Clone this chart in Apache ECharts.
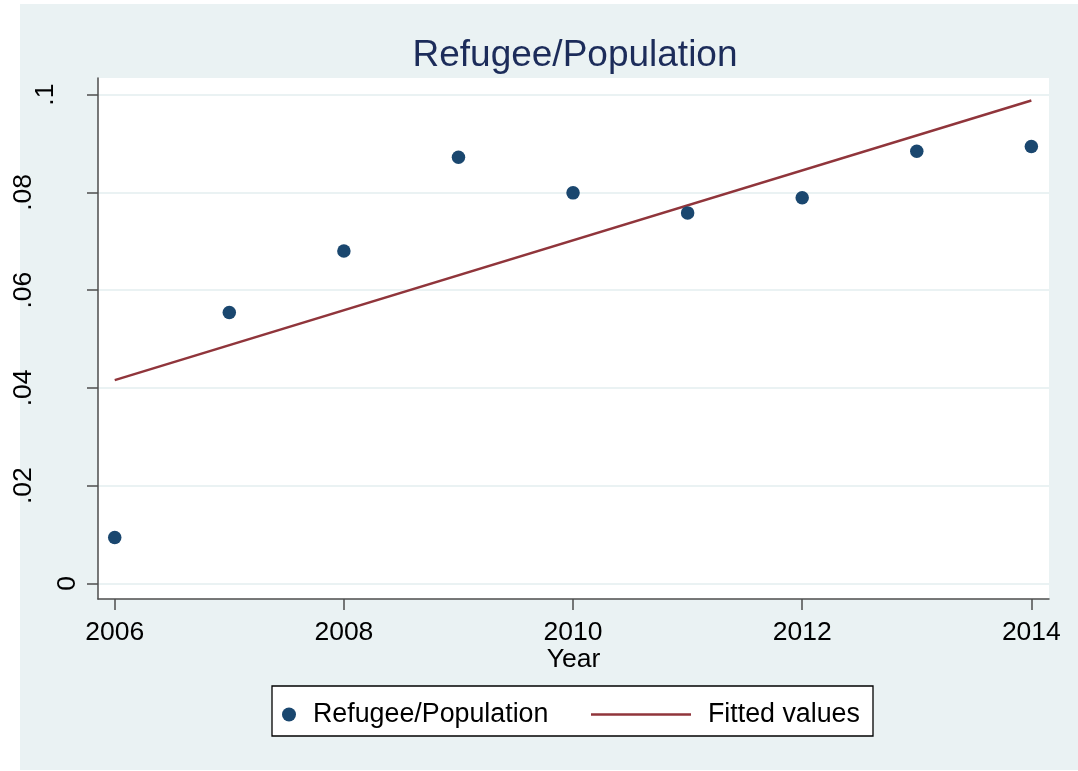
<!DOCTYPE html>
<html>
<head>
<meta charset="utf-8">
<script src="https://cdn.jsdelivr.net/npm/echarts@6/dist/echarts.min.js"></script>
<style>
  html, body { margin: 0; padding: 0; background: #ffffff; }
  #wrap { position: relative; width: 1078px; height: 771px; background: #ffffff; }
  #bg { position: absolute; left: 20px; top: 4px; width: 1058px; height: 766px; background: #eaf2f3; }
  #chart { position: absolute; left: 0; top: 0; width: 1078px; height: 771px; }
</style>
</head>
<body>
<div id="wrap"><div id="bg"></div><div id="chart"></div></div>
<script>
// ---- data ----
const years = [2006, 2007, 2008, 2009, 2010, 2011, 2012, 2013, 2014];
const refugeeShare = [0.0094, 0.0554, 0.0680, 0.0872, 0.0799, 0.0758, 0.0789, 0.0884, 0.0894];
const fittedYears = [2006, 2014];
const fittedValues = [0.0416, 0.0988];
const xTickValues = [2006, 2008, 2010, 2012, 2014];
const yTickValues = [0, 0.02, 0.04, 0.06, 0.08, 0.1];
const yTickLabels = ['0', '.02', '.04', '.06', '.08', '.1'];
const titleText = 'Refugee/Population';
const xTitle = 'Year';
const seriesNames = ['Refugee/Population', 'Fitted values'];

const FONT = '"Liberation Sans", Arial, Helvetica, sans-serif';
const chart = echarts.init(document.getElementById('chart'), null, { renderer: 'canvas' });

function yLabel(v) {
  let idx = -1;
  for (let i = 0; i < yTickValues.length; i++) {
    if (Math.abs(yTickValues[i] - v) < 1e-9) idx = i;
  }
  const s = idx >= 0 ? yTickLabels[idx] : String(v);
  return '{p' + s.length + '|' + s + '}';
}

const richBase = { fontSize: 26.5, fontFamily: FONT, color: '#000000' };

const option = {
  animation: false,
  backgroundColor: 'transparent',
  title: {
    text: titleText,
    left: 575,
    top: 37,
    padding: 0,
    textAlign: 'center',
    textStyle: { fontSize: 37, fontWeight: 'normal', fontFamily: FONT, color: '#1c2c5a' }
  },
  grid: {
    left: 98, top: 78, right: 29, bottom: 172,
    show: true, backgroundColor: '#ffffff', borderWidth: 0,
    containLabel: false
  },
  xAxis: {
    type: 'value',
    min: 2005.854,
    max: 2014.154,
    name: xTitle,
    nameLocation: 'middle',
    nameGap: 47,
    nameMoveOverlap: false,
    nameTextStyle: { fontSize: 26.5, fontFamily: FONT, color: '#000000' },
    axisLine: { show: true, onZero: false, lineStyle: { color: '#4d4d4d', width: 1.5 } },
    axisTick: { show: true, inside: false, length: 11, customValues: xTickValues, lineStyle: { color: '#4d4d4d', width: 1.5 } },
    axisLabel: { customValues: xTickValues, margin: 20, fontSize: 26.5, fontFamily: FONT, color: '#000000', formatter: v => String(Math.round(v)) },
    splitLine: { show: false }
  },
  yAxis: {
    type: 'value',
    min: -0.0032,
    max: 0.1034,
    axisLine: { show: true, onZero: false, lineStyle: { color: '#4d4d4d', width: 1.5 } },
    axisTick: { show: true, inside: false, length: 11, customValues: yTickValues, lineStyle: { color: '#4d4d4d', width: 1.5 } },
    axisLabel: {
      customValues: yTickValues,
      rotate: 90,
      margin: 30,
      align: 'center',
      verticalAlign: 'middle',
      formatter: yLabel,
      rich: {
        p1: Object.assign({ padding: [0, 0, 0, 0] }, richBase),
        p2: Object.assign({ padding: [0, 0, 45, 0] }, richBase),
        p3: Object.assign({ padding: [0, 0, 89, 0] }, richBase)
      }
    },
    splitLine: { show: true, lineStyle: { color: '#eaf2f3', width: 2 } }
  },
  legend: [
    {
      data: [{ name: seriesNames[0], icon: 'circle' }],
      left: 282, top: 701, padding: 0,
      itemWidth: 14, itemHeight: 14,
      textStyle: { fontSize: 26.8, fontFamily: FONT, color: '#000000', padding: [0, 0, 0, 12] },
      selectedMode: false
    },
    {
      data: [{ name: seriesNames[1], icon: 'rect' }],
      left: 591, top: 701, padding: 0,
      itemWidth: 100, itemHeight: 2.5,
      textStyle: { fontSize: 26.8, fontFamily: FONT, color: '#000000', padding: [0, 0, 0, 12] },
      selectedMode: false
    }
  ],
  graphic: [
    {
      type: 'rect',
      shape: { x: 272, y: 686, width: 601, height: 50 },
      style: { fill: '#ffffff', stroke: '#000000', lineWidth: 1.3 },
      z: 0,
      silent: true
    }
  ],
  series: [
    {
      name: seriesNames[0],
      type: 'scatter',
      data: years.map((y, i) => [y, refugeeShare[i]]),
      symbol: 'circle',
      symbolSize: 13.5,
      itemStyle: { color: '#1a476f', opacity: 1 },
      z: 3
    },
    {
      name: seriesNames[1],
      type: 'line',
      data: fittedYears.map((y, i) => [y, fittedValues[i]]),
      symbol: 'none',
      lineStyle: { color: '#90353b', width: 2.4 },
      itemStyle: { color: '#90353b' },
      z: 2
    }
  ]
};
chart.setOption(option);
</script>
</body>
</html>
